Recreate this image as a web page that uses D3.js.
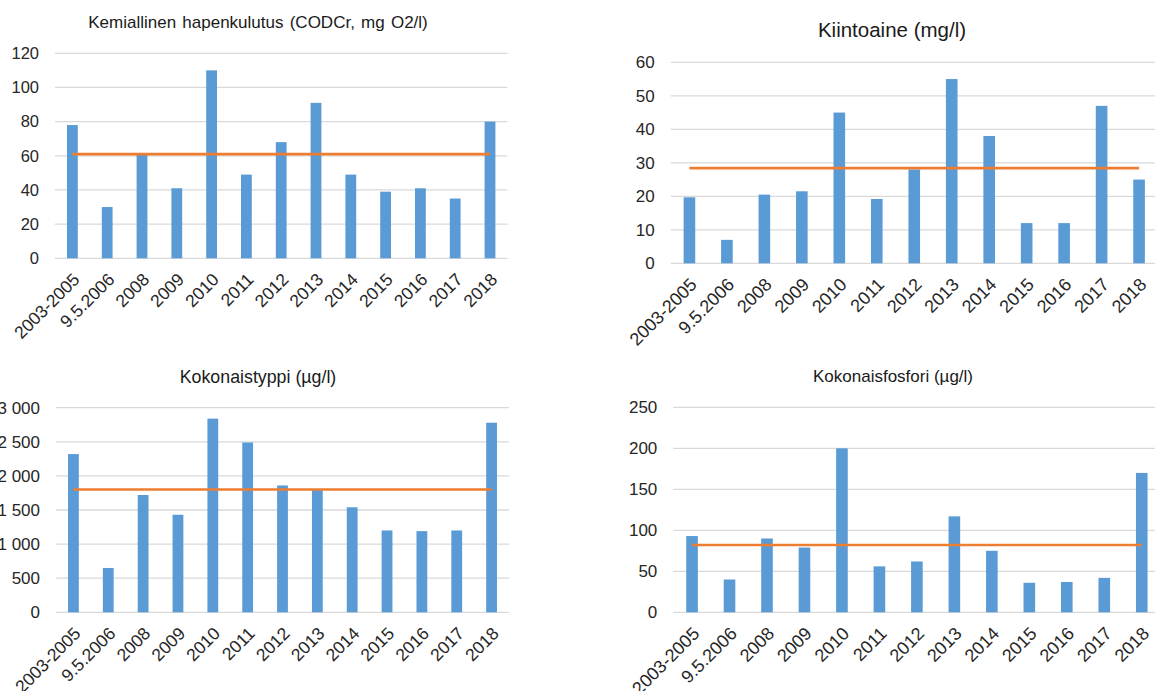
<!DOCTYPE html>
<html>
<head>
<meta charset="utf-8">
<script src="https://cdn.jsdelivr.net/npm/d3@7/dist/d3.min.js"></script>
<style>
  html, body { margin: 0; padding: 0; background: #fff; }
  svg { display: block; }
  text { font-family: "Liberation Sans", Arial, sans-serif; }
</style>
</head>
<body>
<svg id="chart" width="1155" height="691"></svg>
<script>
// ---- data ----
const categories = ["2003-2005", "9.5.2006", "2008", "2009", "2010", "2011", "2012", "2013", "2014", "2015", "2016", "2017", "2018"];

const codTitle = "Kemiallinen hapenkulutus  (CODCr, mg O2/l)";
const codValues = [78, 30, 61, 41, 110, 49, 68, 91, 49, 39, 41, 35, 80];
const codReference = 61;
const codTicks = [0, 20, 40, 60, 80, 100, 120];

const kiintoTitle = "Kiintoaine (mg/l)";
const kiintoValues = [19.7, 7, 20.5, 21.5, 45, 19.2, 28, 55, 38, 12, 12, 47, 25];
const kiintoReference = 28.4;
const kiintoTicks = [0, 10, 20, 30, 40, 50, 60];

const typpiTitle = "Kokonaistyppi (µg/l)";
const typpiValues = [2320, 650, 1720, 1430, 2840, 2490, 1860, 1800, 1540, 1200, 1190, 1200, 2780];
const typpiReference = 1800;
const typpiTicks = [0, 500, 1000, 1500, 2000, 2500, 3000];

const fosforiTitle = "Kokonaisfosfori (µg/l)";
const fosforiValues = [93, 40, 90, 79, 200, 56, 62, 117, 75, 36, 37, 42, 170];
const fosforiReference = 82;
const fosforiTicks = [0, 50, 100, 150, 200, 250];

// ---- layout / style ----
const spaceLocale = d3.formatLocale({ decimal: ",", thousands: "\u00a0", grouping: [3], currency: ["", ""] });
const fmtSpace = spaceLocale.format(",d");
const fmtPlain = d3.format("d");

const panels = [
  { title: codTitle, values: codValues, ref: codReference, ticks: codTicks, fmt: fmtPlain,
    x0: 55, x1: 507.4, y0: 258.3, y1: 53.3, titleX: 258, titleY: 28, titleSize: 17, tickSize: 16.5, xSize: 17.5, wordSpacing: 1.5 },
  { title: kiintoTitle, values: kiintoValues, ref: kiintoReference, ticks: kiintoTicks, fmt: fmtPlain,
    x0: 670.7, x1: 1157.8, y0: 263.3, y1: 62.3, titleX: 892, titleY: 37, titleSize: 20.5, tickSize: 17, xSize: 18, wordSpacing: 0 },
  { title: typpiTitle, values: typpiValues, ref: typpiReference, ticks: typpiTicks, fmt: fmtSpace,
    x0: 56, x1: 509, y0: 612.3, y1: 407.7, titleX: 258, titleY: 383, titleSize: 17.8, tickSize: 17, xSize: 17.5, wordSpacing: 0 },
  { title: fosforiTitle, values: fosforiValues, ref: fosforiReference, ticks: fosforiTicks, fmt: fmtPlain,
    x0: 673.3, x1: 1160.5, y0: 612.3, y1: 407.3, titleX: 893, titleY: 382, titleSize: 17, tickSize: 17, xSize: 18, wordSpacing: 0 }
];

const barColor = "#5b9bd5";
const lineColor = "#ed7d31";
const gridColor = "#d9d9d9";
const textColor = "#262626";

const svg = d3.select("#chart");
svg.append("rect").attr("width", 1155).attr("height", 691).attr("fill", "#fff");

panels.forEach(p => {
  const g = svg.append("g");
  const x = d3.scaleBand().domain(categories).range([p.x0, p.x1]).paddingInner(0.69).paddingOuter(0.345);
  const y = d3.scaleLinear().domain([0, d3.max(p.ticks)]).range([p.y0, p.y1]);

  // gridlines
  g.append("g").selectAll("line").data(p.ticks).join("line")
    .attr("x1", p.x0).attr("x2", p.x1)
    .attr("y1", d => y(d)).attr("y2", d => y(d))
    .attr("stroke", gridColor).attr("stroke-width", 1.3);

  // y axis labels
  const yAxis = d3.axisLeft(y).tickValues(p.ticks).tickFormat(p.fmt).tickSize(0).tickPadding(16);
  const ya = g.append("g").attr("transform", `translate(${p.x0},0)`).call(yAxis);
  ya.select(".domain").remove();
  ya.selectAll("text").attr("font-size", p.tickSize).attr("fill", textColor)
    .attr("font-family", '"Liberation Sans", Arial, sans-serif');

  // bars
  g.append("g").selectAll("rect").data(p.values).join("rect")
    .attr("x", (d, i) => x(categories[i]))
    .attr("width", x.bandwidth())
    .attr("y", d => y(d))
    .attr("height", d => y(0) - y(d))
    .attr("fill", barColor);

  // reference line
  const line = d3.line().x(d => x(d) + x.bandwidth() / 2).y(() => y(p.ref));
  g.append("path").datum(categories).attr("d", line)
    .attr("fill", "none").attr("stroke", lineColor).attr("stroke-width", 2.6);

  // x axis labels
  const xAxis = d3.axisBottom(x).tickSize(0).tickPadding(0);
  const xa = g.append("g").attr("transform", `translate(0,${p.y0})`).call(xAxis);
  xa.select(".domain").remove();
  xa.selectAll("text")
    .attr("font-size", p.xSize).attr("fill", textColor)
    .attr("font-family", '"Liberation Sans", Arial, sans-serif')
    .attr("text-anchor", "end")
    .attr("y", 0).attr("dy", "0.35em")
    .attr("transform", "translate(4,18) rotate(-45)");

  // title
  g.append("text").attr("x", p.titleX).attr("y", p.titleY)
    .attr("text-anchor", "middle").attr("font-size", p.titleSize)
    .attr("word-spacing", p.wordSpacing)
    .attr("fill", "#1a1a1a").text(p.title);
});
</script>
</body>
</html>
